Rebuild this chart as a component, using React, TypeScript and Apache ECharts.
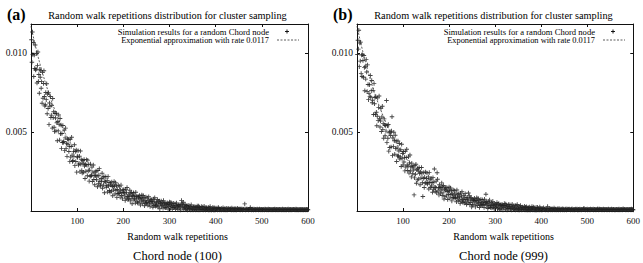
import React, { useEffect, useRef } from "react";
import * as echarts from "echarts";

// Measured probability for x = 1..600 random-walk repetitions, in units of 1e-5.
const simulationA = [
  1084, 942, 1133, 991, 1067, 852, 987, 902, 1051, 893,
  899, 997, 810, 922, 1007, 820, 864, 746, 897, 847,
  888, 777, 819, 682, 878, 714, 807, 888, 725, 665,
  673, 750, 705, 806, 616, 741, 649, 749, 547, 684,
  663, 725, 592, 607, 669, 525, 712, 591, 628, 530,
  504, 617, 589, 507, 619, 559, 445, 567, 507, 608,
  547, 449, 586, 489, 544, 395, 491, 434, 541, 433,
  440, 512, 382, 463, 525, 395, 428, 346, 456, 423,
  454, 377, 409, 314, 454, 341, 408, 467, 354, 313,
  320, 376, 346, 419, 287, 377, 313, 386, 246, 344,
  338, 382, 291, 303, 347, 248, 380, 296, 325, 257,
  240, 320, 302, 245, 326, 285, 206, 294, 252, 325,
  292, 223, 322, 254, 295, 189, 259, 220, 297, 221,
  226, 278, 187, 246, 291, 199, 224, 166, 247, 223,
  253, 198, 222, 154, 256, 175, 226, 268, 188, 159,
  165, 206, 186, 239, 144, 210, 164, 218, 116, 188,
  184, 217, 150, 160, 194, 121, 219, 158, 180, 130,
  119, 178, 165, 125, 184, 155, 97, 163, 133, 186,
  156, 108, 179, 131, 160, 86, 136, 109, 164, 111,
  115, 153, 88, 131, 164, 98, 117, 77, 134, 118,
  135, 96, 114, 67, 138, 82, 118, 149, 92, 72,
  77, 107, 93, 131, 64, 112, 80, 117, 46, 98,
  92, 116, 70, 77, 100, 50, 119, 77, 92, 59,
  51, 93, 85, 56, 98, 78, 38, 84, 63, 102,
  81, 47, 98, 63, 86, 33, 69, 49, 89, 52,
  55, 82, 36, 67, 91, 45, 58, 29, 71, 60,
  72, 45, 57, 23, 76, 35, 62, 84, 43, 30,
  33, 55, 45, 73, 25, 59, 37, 64, 14, 50,
  47, 63, 31, 36, 54, 18, 67, 37, 49, 24,
  20, 49, 43, 24, 53, 40, 12, 44, 30, 57,
  43, 18, 55, 30, 46, 10, 35, 22, 49, 23,
  26, 44, 13, 35, 51, 19, 29, 9, 38, 30,
  40, 20, 29, 6, 42, 66, 33, 48, 20, 55,
  13, 28, 22, 41, 8, 32, 16, 35, 6, 26,
  24, 36, 13, 17, 29, 7, 39, 18, 26, 9,
  6, 27, 23, 8, 29, 20, 6, 23, 13, 32,
  22, 6, 31, 14, 25, 7, 18, 9, 28, 10,
  12, 25, 6, 18, 30, 8, 15, 6, 22, 16,
  21, 8, 15, 6, 24, 6, 18, 28, 10, 7,
  7, 15, 10, 24, 6, 17, 6, 20, 7, 14,
  14, 8, 19, 6, 12, 22, 9, 15, 7, 11,
  10, 17, 6, 13, 8, 20, 11, 7, 15, 9,
  12, 7, 18, 10, 6, 14, 9, 16, 8, 12,
  8, 15, 11, 6, 19, 9, 13, 7, 10, 16,
  11, 7, 14, 9, 6, 12, 17, 8, 10, 13,
  9, 13, 7, 11, 15, 8, 10, 6, 12, 9,
  11, 8, 45, 10, 7, 13, 9, 12, 8, 10,
  7, 11, 9, 13, 22, 8, 10, 7, 12, 9,
  10, 7, 12, 8, 9, 11, 7, 10, 8, 12,
  8, 11, 7, 9, 12, 8, 10, 7, 9, 11,
  9, 7, 11, 8, 10, 7, 12, 9, 8, 10,
  7, 10, 8, 12, 7, 9, 11, 8, 10, 7,
  10, 8, 9, 7, 11, 8, 10, 12, 7, 9,
  8, 11, 7, 10, 8, 9, 7, 11, 9, 8,
  9, 7, 10, 8, 12, 7, 9, 8, 10, 7,
  11, 8, 7, 9, 10, 8, 12, 7, 9, 10,
  7, 9, 11, 8, 7, 10, 8, 9, 11, 8,
  10, 7, 8, 12, 9, 7, 10, 8, 7, 9,
  8, 10, 7, 9, 11, 8, 7, 10, 9, 7,
  9, 8, 10, 7, 8, 11, 9, 7, 10, 8,
];

const simulationB = [
  991, 1081, 1025, 1144, 914, 1063, 949, 1069, 870, 987,
  852, 990, 953, 847, 985, 908, 761, 914, 835, 960,
  880, 756, 925, 801, 705, 745, 799, 726, 858, 720,
  762, 826, 685, 701, 764, 611, 808, 679, 719, 613,
  723, 625, 540, 600, 716, 572, 656, 728, 584, 532,
  570, 651, 503, 595, 663, 517, 553, 461, 583, 545,
  476, 541, 506, 700, 433, 539, 461, 548, 379, 495,
  402, 502, 478, 406, 506, 597, 352, 462, 409, 499,
  445, 359, 480, 395, 444, 313, 399, 349, 443, 348,
  380, 427, 329, 342, 388, 282, 423, 333, 364, 291,
  377, 310, 338, 254, 378, 279, 339, 391, 292, 256,
  285, 343, 240, 305, 355, 253, 280, 216, 303, 278,
  236, 285, 260, 102, 210, 287, 233, 296, 176, 261,
  197, 270, 254, 202, 275, 238, 166, 247, 209, 275,
  240, 179, 92, 206, 243, 149, 213, 177, 247, 178,
  206, 241, 171, 181, 216, 139, 243, 179, 201, 149,
  208, 158, 180, 119, 211, 138, 184, 266, 150, 125,
  147, 189, 115, 242, 201, 127, 147, 102, 166, 148,
  114, 149, 132, 178, 98, 154, 115, 161, 76, 137,
  91, 144, 132, 96, 149, 123, 73, 131, 104, 152,
  126, 82, 146, 103, 129, 64, 109, 85, 133, 86,
  103, 129, 79, 87, 113, 59, 133, 87, 103, 67,
  109, 75, 90, 48, 113, 62, 94, 122, 72, 54,
  70, 100, 50, 84, 110, 58, 73, 41, 87, 75,
  51, 114, 64, 97, 41, 81, 54, 86, 26, 70,
  37, 75, 68, 42, 80, 63, 26, 68, 50, 84,
  65, 35, 80, 50, 70, 22, 55, 38, 73, 40,
  52, 71, 36, 42, 59, 22, 74, 42, 54, 106,
  59, 34, 46, 16, 62, 26, 50, 69, 34, 22,
  34, 54, 19, 43, 61, 26, 36, 14, 46, 38,
  22, 39, 31, 54, 15, 43, 24, 48, 8, 36,
  14, 40, 35, 18, 43, 31, 7, 35, 23, 47,
  35, 13, 45, 25, 38, 6, 28, 16, 41, 18,
  26, 39, 15, 19, 32, 6, 43, 20, 29, 11,
  33, 15, 23, 6, 36, 9, 26, 41, 16, 7,
  15, 30, 6, 22, 35, 10, 18, 6, 25, 19,
  8, 21, 15, 30, 6, 23, 11, 27, 6, 19,
  6, 22, 18, 6, 25, 16, 6, 19, 11, 28,
  18, 6, 26, 11, 21, 6, 15, 7, 23, 7,
  14, 23, 6, 9, 18, 6, 25, 9, 16, 6,
  12, 7, 16, 9, 20, 8, 11, 14, 6, 10,
  9, 15, 7, 28, 10, 6, 13, 8, 17, 11,
  7, 12, 9, 15, 6, 11, 8, 19, 10, 7,
  13, 8, 10, 6, 14, 9, 12, 7, 16, 8,
  10, 6, 13, 8, 11, 15, 7, 9, 12, 8,
  7, 11, 9, 14, 6, 10, 8, 13, 9, 11,
  12, 8, 10, 7, 11, 9, 14, 8, 6, 10,
  8, 11, 7, 10, 13, 8, 9, 12, 7, 10,
  11, 7, 9, 12, 8, 10, 7, 11, 9, 8,
  9, 12, 18, 8, 10, 7, 11, 9, 8, 12,
  7, 10, 8, 11, 9, 7, 12, 8, 10, 9,
  10, 8, 12, 7, 9, 11, 8, 10, 7, 9,
  8, 11, 15, 9, 7, 10, 12, 8, 9, 11,
  9, 7, 10, 8, 12, 9, 7, 11, 10, 8,
  11, 9, 7, 10, 8, 12, 9, 7, 10, 9,
  8, 10, 12, 7, 9, 8, 11, 10, 7, 9,
  10, 7, 9, 11, 8, 10, 7, 9, 12, 8,
  7, 9, 10, 8, 11, 7, 10, 15, 8, 9,
  9, 11, 8, 7, 10, 9, 8, 11, 7, 10,
  8, 9, 11, 10, 7, 12, 9, 8, 10, 7,
];

const fitRate = 0.0117;
const xTicks = [0, 100, 200, 300, 400, 500, 600];
const yTicks = [0.005, 0.01];
const panelTitle = "Random walk repetitions distribution for cluster sampling";
const legendSim = "Simulation results for a random Chord node";
const legendFit = "Exponential approximation with rate 0.0117";
const xName = "Random walk repetitions";
const panels = [
  { tag: "(a)", caption: "Chord node (100)", values: simulationA },
  { tag: "(b)", caption: "Chord node (999)", values: simulationB },
];

const SERIF = '"Liberation Serif", "Times New Roman", serif';
const INK = "#000000";
const PLUS = "path://M-1,-5H1V-1H5V1H1V5H-1V1H-5V-1H-1Z";

const GRID_W = 277;
const GRID_H = 187;
const GRID_TOP = 24;
const GRID_LEFTS = [31, 357];
const Y_MAX = 0.01184;

function buildOption() {
  const grid = GRID_LEFTS.map((left) => ({ left, top: GRID_TOP, width: GRID_W, height: GRID_H }));
  const xAxis: any[] = [];
  const yAxis: any[] = [];
  const series: any[] = [];
  const graphic: any[] = [];

  const axisLine = { show: true, onZero: false, lineStyle: { color: "#111111", width: 1 } };
  const tick = { show: true, inside: true, length: 3, lineStyle: { color: "#111111", width: 1 } };

  panels.forEach((p, i) => {
    const base = {
      type: "value",
      gridIndex: i,
      min: xTicks[0],
      max: xTicks[xTicks.length - 1],
      interval: xTicks[1] - xTicks[0],
      axisLine,
      axisTick: tick,
      splitLine: { show: false },
    };
    xAxis.push({
      ...base,
      position: "bottom",
      axisLabel: {
        color: "#111111",
        fontFamily: SERIF,
        fontSize: 9,
        margin: 5,
        formatter: (v: number) => (v === 0 ? "" : String(v)),
      },
    });
    xAxis.push({ ...base, position: "top", axisLabel: { show: false } });

    const yBase = {
      type: "value",
      gridIndex: i,
      min: 0,
      max: Y_MAX,
      interval: yTicks[0],
      axisLine,
      splitLine: { show: false },
    };
    yAxis.push({
      ...yBase,
      position: "left",
      axisTick: { ...tick, customValues: yTicks },
      axisLabel: {
        color: "#111111",
        fontFamily: SERIF,
        fontSize: 9.5,
        margin: 4,
        customValues: yTicks,
        formatter: (v: number) => (yTicks.some((t) => Math.abs(t - v) < 1e-9) ? v.toFixed(3) : ""),
      },
    });
    yAxis.push({
      ...yBase,
      position: "right",
      axisTick: { ...tick, customValues: yTicks },
      axisLabel: { show: false },
    });

    series.push({
      type: "scatter",
      xAxisIndex: i * 2,
      yAxisIndex: i * 2,
      symbol: PLUS,
      symbolSize: 4.5,
      itemStyle: { color: "#222222", opacity: 0.85 },
      data: p.values.map((v, k) => [k + 1, v * 1e-5]),
      silent: true,
    });

    const fit: number[][] = [];
    for (let x = 0; x <= 600; x += 2) fit.push([x, fitRate * Math.exp(-fitRate * x)]);
    series.push({
      type: "line",
      xAxisIndex: i * 2,
      yAxisIndex: i * 2,
      showSymbol: false,
      data: fit,
      lineStyle: { color: "#333333", width: 0.8, type: [2, 1.5] },
      silent: true,
      z: 3,
    });

    const left = GRID_LEFTS[i];
    const cx = left + GRID_W / 2;
    const legendRight = left + 238;
    const textCommon = { fill: INK, opacity: 1, verticalAlign: "middle", textVerticalAlign: "middle" };

    graphic.push(
      {
        type: "text",
        x: cx - 2,
        y: 15,
        style: { ...textCommon, text: panelTitle, font: `10.3px ${SERIF}`, align: "center", textAlign: "center" },
      },
      {
        type: "text",
        x: left - 24,
        y: 14,
        style: { ...textCommon, text: p.tag, font: `bold 16px ${SERIF}`, align: "left", textAlign: "left" },
      },
      {
        type: "text",
        x: legendRight,
        y: 31.5,
        style: { ...textCommon, text: legendSim, font: `8.6px ${SERIF}`, align: "right", textAlign: "right" },
      },
      {
        type: "text",
        x: legendRight,
        y: 40,
        style: { ...textCommon, text: legendFit, font: `8.4px ${SERIF}`, align: "right", textAlign: "right" },
      },
      {
        type: "line",
        shape: { x1: legendRight + 16, y1: 31.5, x2: legendRight + 20, y2: 31.5 },
        style: { stroke: INK, lineWidth: 0.9 },
      },
      {
        type: "line",
        shape: { x1: legendRight + 18, y1: 29.5, x2: legendRight + 18, y2: 33.5 },
        style: { stroke: INK, lineWidth: 0.9 },
      },
      {
        type: "line",
        shape: { x1: legendRight + 8, y1: 40, x2: legendRight + 30, y2: 40 },
        style: { stroke: "#333333", lineWidth: 0.8, lineDash: [2, 1.5] },
      },
      {
        type: "text",
        x: cx + 8,
        y: 236,
        style: { ...textCommon, text: xName, font: `10px ${SERIF}`, align: "center", textAlign: "center" },
      },
      {
        type: "text",
        x: cx + 8,
        y: 256,
        style: { ...textCommon, text: p.caption, font: `12.5px ${SERIF}`, align: "center", textAlign: "center" },
      }
    );
  });

  return {
    animation: false,
    backgroundColor: "#ffffff",
    grid,
    xAxis,
    yAxis,
    series,
    graphic,
  };
}

export default function App() {
  const ref = useRef<HTMLDivElement>(null);
  useEffect(() => {
    if (!ref.current) return;
    const chart = echarts.init(ref.current, undefined, { renderer: "svg" });
    chart.setOption(buildOption() as any);
    return () => chart.dispose();
  }, []);
  return (
    <div
      ref={ref}
      style={{ position: "fixed", left: 0, top: 0, width: 643, height: 263, background: "#fff" }}
    />
  );
}
